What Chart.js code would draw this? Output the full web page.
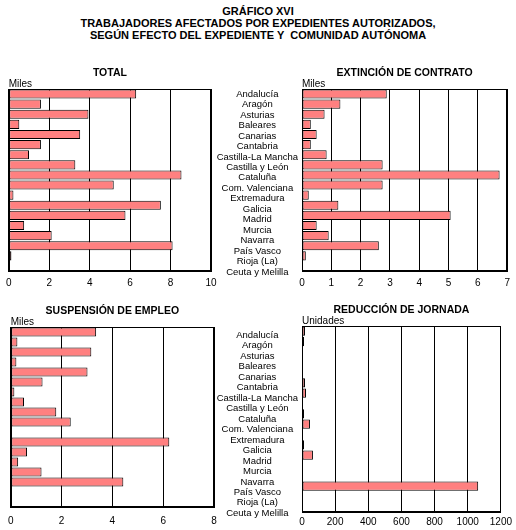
<!DOCTYPE html>
<html>
<head>
<meta charset="utf-8">
<script src="https://cdn.jsdelivr.net/npm/chart.js@4.4.0/dist/chart.umd.min.js"></script>
<style>
html,body{margin:0;padding:0;background:#fff;}
#page{position:relative;width:516px;height:530px;overflow:hidden;background:#fff;}
.layer{position:absolute;left:0;top:0;width:516px;height:530px;}
#title{position:absolute;left:0;top:5px;width:516px;text-align:center;font:bold 11px "Liberation Sans",Arial,sans-serif;line-height:12px;color:#000;white-space:pre;}
</style>
</head>
<body>
<div id="page">
<div id="title">GRÁFICO XVI
TRABAJADORES AFECTADOS POR EXPEDIENTES AUTORIZADOS,
SEGÚN EFECTO DEL EXPEDIENTE Y  COMUNIDAD AUTÓNOMA</div>
<canvas class="layer" id="cTotal" width="516" height="530"></canvas>
<canvas class="layer" id="cExt" width="516" height="530"></canvas>
<canvas class="layer" id="cSusp" width="516" height="530"></canvas>
<canvas class="layer" id="cRed" width="516" height="530"></canvas>
<canvas class="layer" id="cLabTop" width="516" height="530"></canvas>
<canvas class="layer" id="cLabBot" width="516" height="530"></canvas>
</div>
<script>
// ---- data ----
const categories = ['Andalucía','Aragón','Asturias','Baleares','Canarias','Cantabria','Castilla-La Mancha','Castilla y León','Cataluña','Com. Valenciana','Extremadura','Galicia','Madrid','Murcia','Navarra','País Vasco','Rioja (La)','Ceuta y Melilla'];
const totalMiles      = [6.30,1.59,3.94,0.52,3.53,1.59,1.00,3.29,8.54,5.19,0.23,7.52,5.77,0.76,2.12,8.10,0.13,0];
const extincionMiles  = [2.89,1.31,0.77,0.30,0.50,0.30,0.84,2.75,6.74,2.75,0.23,1.24,5.07,0.50,0.91,2.62,0.13,0];
const suspensionMiles = [3.36,0.26,3.17,0.22,3.02,1.25,0.14,0.52,1.79,2.36,0,6.24,0.64,0.29,1.21,4.43,0,0];
const reduccionUnidades = [18,12,6,0,0,18,24,6,12,48,0,12,66,0,0,1063,0,0];
const totalTicks = [0,2,4,6,8,10];
const extincionTicks = [0,1,2,3,4,5,6,7];
const suspensionTicks = [0,2,4,6,8];
const reduccionTicks = [0,200,400,600,800,1000,1200];

Chart.defaults.font.family = '"Liberation Sans", Arial, sans-serif';
Chart.defaults.color = '#000';

const W = 516, H = 530;

const framePlugin = {
  id: 'frame',
  beforeDatasetsDraw(chart) {
    const {ctx, chartArea: a} = chart;
    ctx.save();
    ctx.strokeStyle = '#000';
    ctx.lineWidth = 1;
    const l = Math.round(a.left) + 0.5, t = Math.round(a.top) + 0.5;
    const r = Math.round(a.right) - 0.5, b = Math.round(a.bottom) - 0.5;
    ctx.strokeRect(l, t, r - l, b - t);
    ctx.restore();
  }
};

function makeBar(id, values, ticks, title, unit, area, tickPad) {
  const [L, T, R, B] = area;
  const xAxisH = 20;
  const header = 10.5 * 1.2 + 10;
  const step = ticks[1] - ticks[0];
  new Chart(document.getElementById(id), {
    type: 'bar',
    data: {
      labels: categories,
      datasets: [{
        data: values,
        backgroundColor: '#FF8080',
        borderColor: '#000',
        borderWidth: 1,
        borderSkipped: false,
        barPercentage: 0.9,
        categoryPercentage: 1
      }]
    },
    options: {
      indexAxis: 'y',
      responsive: false,
      animation: false,
      events: [],
      layout: { padding: { left: L, right: W - R, top: T - header, bottom: H - B - xAxisH } },
      plugins: {
        legend: { display: false },
        tooltip: { enabled: false },
        title: { display: true, text: title, fullSize: false, color: '#000',
                 font: { size: 10.5, weight: 'bold', lineHeight: 1.2 }, padding: 0 },
        subtitle: { display: true, text: unit, fullSize: false, align: 'start', color: '#000',
                    font: { size: 10, lineHeight: 1.0 }, padding: 0 }
      },
      scales: {
        x: {
          type: 'linear', min: ticks[0], max: ticks[ticks.length - 1],
          ticks: { stepSize: step, color: '#000', font: { size: 10 }, padding: tickPad, maxRotation: 0,
                   callback: (v) => String(v) },
          grid: { color: '#000', lineWidth: 1, drawTicks: false },
          border: { display: true, color: '#000', width: 1 },
          afterFit(s) { s.height = xAxisH; }
        },
        y: { type: 'category', display: false }
      }
    },
    plugins: [framePlugin]
  });
}

function makeLabels(id, top, bottom) {
  new Chart(document.getElementById(id), {
    type: 'bar',
    data: { labels: categories, datasets: [{ data: [] }] },
    options: {
      indexAxis: 'y',
      responsive: false,
      animation: false,
      events: [],
      layout: { padding: { left: 198, right: 190, top: top, bottom: H - bottom } },
      plugins: { legend: { display: false }, tooltip: { enabled: false } },
      scales: {
        x: { display: false },
        y: {
          type: 'category',
          grid: { display: false, drawTicks: false },
          border: { display: false },
          ticks: { crossAlign: 'center', padding: 0, autoSkip: false, color: '#000', font: { size: 9.5 } },
          afterFit(s) { s.width = 100; }
        }
      }
    }
  });
}

makeBar('cTotal', totalMiles, totalTicks, 'TOTAL', 'Miles', [6, 89, 211, 271], 6);
makeBar('cExt', extincionMiles, extincionTicks, 'EXTINCIÓN DE CONTRATO', 'Miles', [302, 89, 511, 271], 6);
makeBar('cSusp', suspensionMiles, suspensionTicks, 'SUSPENSIÓN DE EMPLEO', 'Miles', [6, 327, 214, 507], 8);
makeBar('cRed', reduccionUnidades, reduccionTicks, 'REDUCCIÓN DE JORNADA', 'Unidades', [302, 326, 503, 512], 4);
makeLabels('cLabTop', 88.8, 277.4);
makeLabels('cLabBot', 329.8, 518.6);
</script>
</body>
</html>
